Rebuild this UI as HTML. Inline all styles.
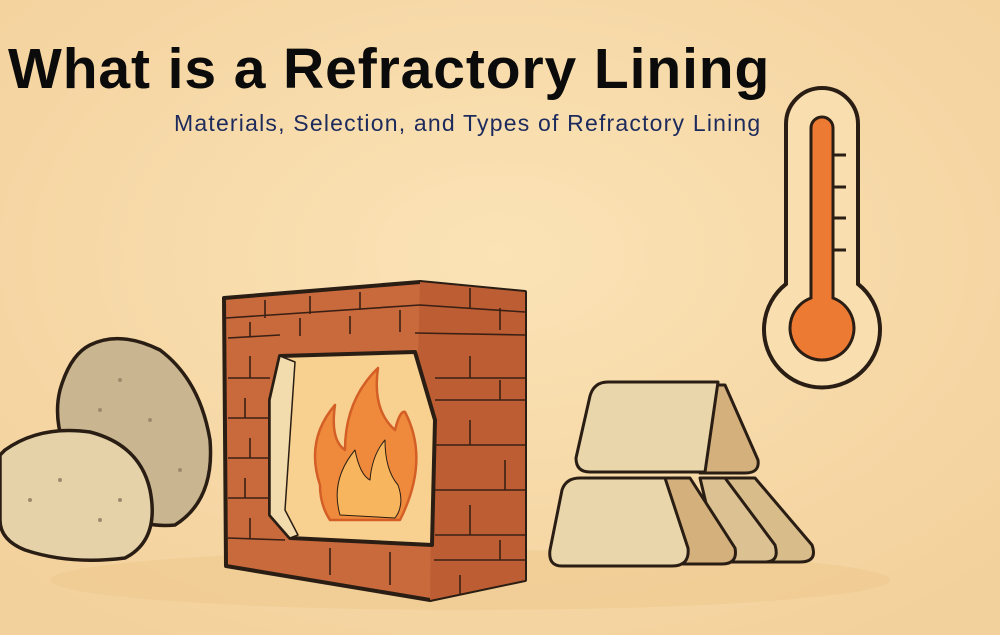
<!DOCTYPE html>
<html><head><meta charset="utf-8"><style>
html,body{margin:0;padding:0;width:1000px;height:635px;overflow:hidden;background:#f8dcab}
svg{position:absolute;left:0;top:0}
.t{position:absolute;left:8px;top:36px;font:bold 57px "Liberation Sans",sans-serif;color:#0b0b0b;letter-spacing:0.9px;white-space:nowrap}
.s{position:absolute;left:174px;top:110px;font:23px "Liberation Sans",sans-serif;color:#1d2a5c;letter-spacing:1.2px;white-space:nowrap}
</style></head><body>
<svg width="1000" height="635" viewBox="0 0 1000 635">
<defs><radialGradient id="bg" cx="0.5" cy="0.4" r="0.7"><stop offset="0" stop-color="#fbe3b6"/><stop offset="1" stop-color="#f3d19c"/></radialGradient></defs>
<rect width="1000" height="635" fill="url(#bg)"/>
<ellipse cx="470" cy="580" rx="420" ry="30" fill="#efc98f" opacity="0.6"/>
<!-- thermometer -->
<path d="M786 124 a36 36 0 0 1 72 0 V284 a58 58 0 1 1 -72 0 Z" fill="#f9dfb0" stroke="#2a1e14" stroke-width="4"/>
<path d="M811 128 a11 11 0 0 1 22 0 V298 a32 32 0 1 1 -22 0 Z" fill="#ed7a33" stroke="#2a1e14" stroke-width="3"/>
<g stroke="#2a1e14" stroke-width="3"><line x1="833" y1="155" x2="846" y2="155"/><line x1="833" y1="187" x2="846" y2="187"/><line x1="833" y1="218" x2="846" y2="218"/><line x1="833" y1="250" x2="846" y2="250"/></g>
<!-- stones -->
<path d="M90 345 Q120 330 160 350 Q200 380 210 440 Q215 500 175 525 Q120 530 80 480 Q50 430 60 390 Q70 355 90 345Z" fill="#c9b58f" stroke="#2a1e14" stroke-width="3.5"/>
<path d="M5 450 Q40 425 90 432 Q140 445 150 490 Q160 540 125 558 Q70 565 25 550 Q0 540 0 520 V455Z" fill="#e5d2a8" stroke="#2a1e14" stroke-width="3.5"/>
<g fill="#9c8a6c"><circle cx="120" cy="380" r="2"/><circle cx="150" cy="420" r="2"/><circle cx="180" cy="470" r="2"/><circle cx="100" cy="410" r="2"/><circle cx="60" cy="480" r="2"/><circle cx="100" cy="520" r="2"/><circle cx="30" cy="500" r="2"/><circle cx="120" cy="500" r="2"/></g>
<!-- bricks stack -->
<g stroke="#2a1e14" stroke-width="3" stroke-linejoin="round">
<path d="M755 478 L812 545 Q818 562 800 562 H740 L710 478Z" fill="#d8bd8a"/>
<path d="M725 478 L775 545 Q780 562 765 562 H720 L700 478Z" fill="#dcc293"/>
<path d="M690 478 L735 548 Q738 564 722 564 H680 L660 478Z" fill="#d4b07c"/>
<path d="M580 478 H665 L688 548 Q690 566 672 566 H562 Q548 566 550 550 L562 490 Q566 478 580 478Z" fill="#ead6ab"/>
<path d="M725 385 L758 460 Q760 473 745 473 H700 L705 385Z" fill="#d4b07c"/>
<path d="M608 382 H718 L705 472 H590 Q576 472 576 458 L590 396 Q594 382 608 382Z" fill="#ead6ab"/>
</g>
<!-- furnace -->
<g stroke="#2a1e14" stroke-linejoin="round">
<path d="M224 298 L420 282 L525 292 V580 L430 600 L226 566Z" fill="#c96a3d" stroke-width="4"/>
<path d="M420 282 L525 292 V580 L430 600 L432 420 L418 356Z" fill="#bd5d33" stroke-width="0"/>
<path d="M280 356 L415 352 L435 420 L432 545 L290 538 L270 515 V400Z" fill="#f8d090" stroke-width="4"/>
<path d="M280 356 L295 362 L285 510 L298 535 L290 538 L270 515 V400Z" fill="#f2dcae" stroke-width="1.5"/>
<path d="M320 485 Q305 440 335 405 Q330 440 345 450 Q345 400 378 368 Q372 410 395 430 Q400 410 405 412 Q430 460 400 520 H330 Q320 505 320 485Z" fill="#ef8a3c" stroke="#d35f26" stroke-width="2.5"/>
<path d="M340 515 Q330 480 355 450 Q360 475 370 480 Q372 455 385 440 Q385 470 398 485 Q405 505 395 518Z" fill="#f7b65d"/>
</g>
<g stroke="#3a2014" stroke-width="1.6" fill="none">
<path d="M226 318 L420 305 L525 312 M228 338 L280 335 M415 333 L525 335 M228 378 L270 378 M228 418 L270 418 M228 458 L270 458 M228 498 L270 498 M228 538 L285 540 M435 378 L525 378 M435 400 L525 400 M435 445 L525 445 M435 490 L525 490 M435 535 L525 535 M434 560 L525 560"/>
<path d="M265 300 V318 M310 296 V314 M360 292 V310 M250 322 V336 M300 318 V336 M350 316 V334 M400 310 V332 M470 288 V308 M500 308 V330 M250 356 V378 M245 398 V418 M250 438 V458 M245 478 V498 M250 518 V538 M470 356 V378 M500 380 V400 M470 420 V445 M505 460 V490 M470 505 V535 M500 540 V560 M330 548 V575 M390 552 V585 M460 575 V595"/>
</g>
</svg>
<div class="t">What is a Refractory Lining</div>
<div class="s">Materials, Selection, and Types of Refractory Lining</div>
</body></html>
